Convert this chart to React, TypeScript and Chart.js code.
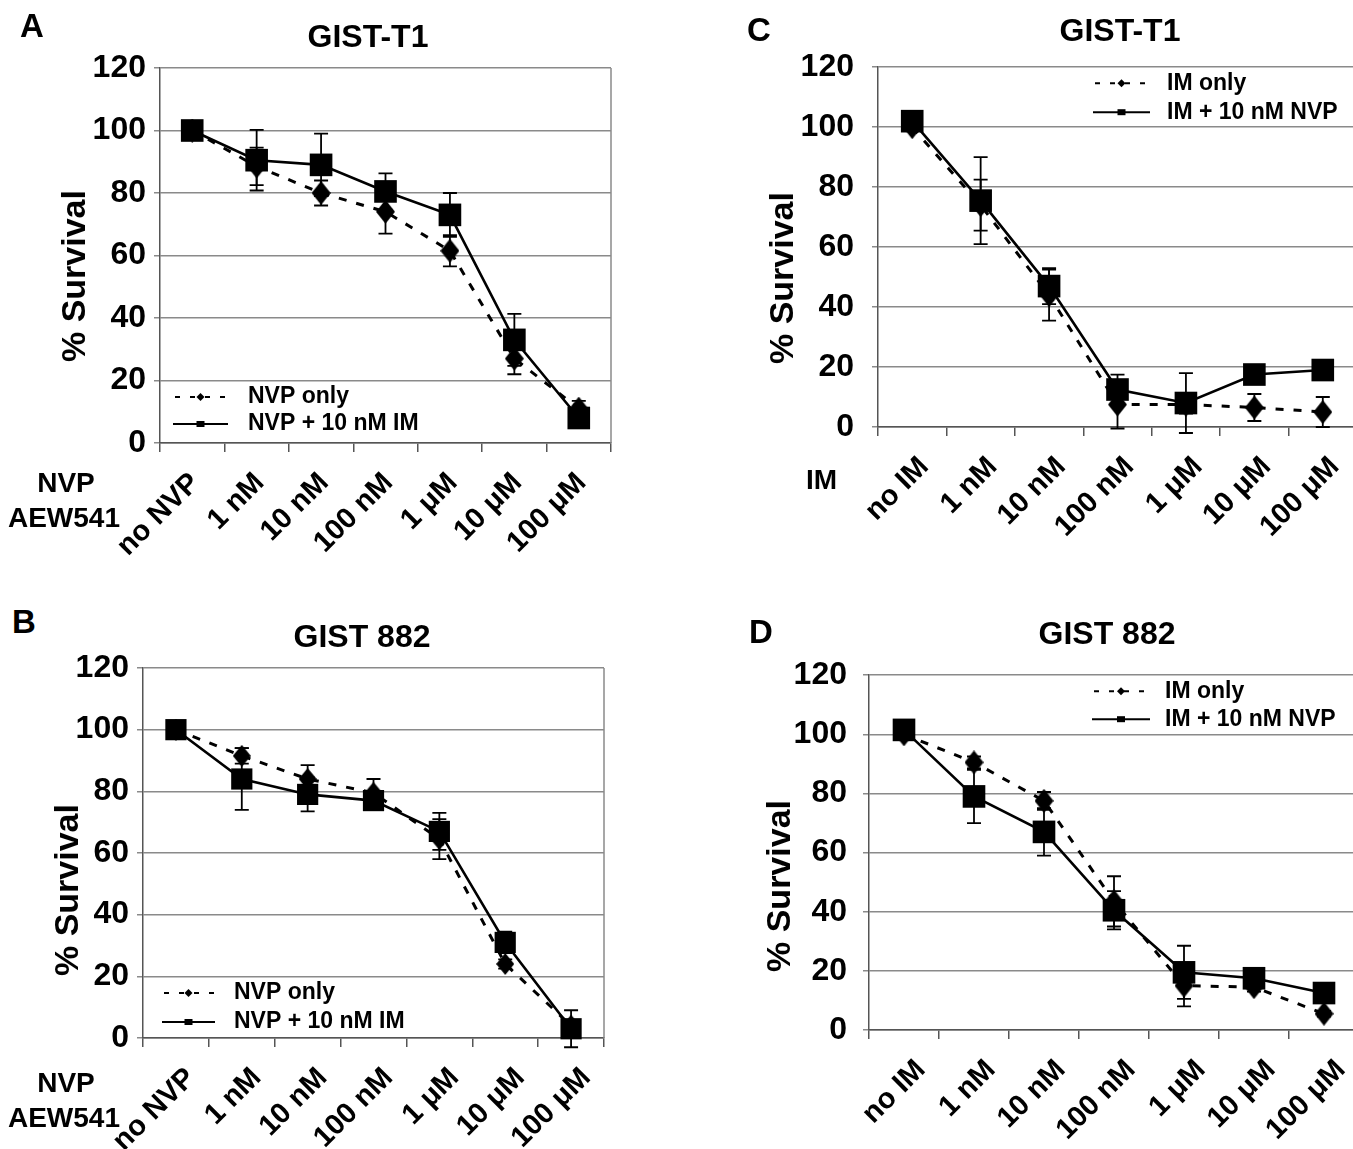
import React, { useEffect, useRef } from "react";
import { Chart, registerables } from "chart.js";

Chart.register(...registerables);

const FONT = "'Liberation Sans', Arial, Helvetica, sans-serif";

// ---------- data ----------
const nvpCategories = ["no NVP", "1 nM", "10 nM", "100 nM", "1 \u03BCM", "10 \u03BCM", "100 \u03BCM"];
const imCategories = ["no IM", "1 nM", "10 nM", "100 nM", "1 \u03BCM", "10 \u03BCM", "100 \u03BCM"];
const yTickValues = [0, 20, 40, 60, 80, 100, 120];

// Panel A: GIST-T1, NVP titration
const nvpOnlyA = [100, 88.5, 80, 74, 61.5, 27, 11];
const nvpOnlyAErr = [1, 6, 4, 7, 5, 5, 2.5];
const nvpImA = [100, 90.5, 89, 80.5, 73, 33, 8];
const nvpImAErr = [1, 9.7, 10, 5.8, 7, 8.3, 2];

// Panel B: GIST 882, NVP titration
const nvpOnlyB = [100, 91.5, 84, 79.5, 64.5, 24, 4];
const nvpOnlyBErr = [0.5, 2.5, 4.5, 4.5, 6.5, 1.5, 1];
const nvpImB = [100, 84, 79, 77, 67, 31, 3];
const nvpImBErr = [0.5, 10, 5.5, 2, 6, 3.5, 6];

// Panel C: GIST-T1, IM titration
const imOnlyC = [100, 74, 44, 7.5, 7.5, 6.5, 5];
const imOnlyCErr = [1, 8.5, 8.5, 8, 3, 4.5, 5];
const imNvpC = [102, 75.5, 47, 12.5, 8, 17.5, 19];
const imNvpCErr = [1, 14.5, 6, 5, 10, 1, 1];

// Panel D: GIST 882, IM titration
const imOnlyD = [100, 90.5, 77.5, 43.5, 15, 14.5, 5.5];
const imOnlyDErr = [1, 2, 3, 8.5, 7, 1.5, 1];
const imNvpD = [101.5, 79, 67, 40.5, 19.5, 17.5, 12.5];
const imNvpDErr = [1, 9, 8, 6.5, 9, 1, 1];

// ---------- layout ----------
type Rect = { left: number; top: number; width: number; height: number };
type Plot = { left: number; right: number; top: number; bottom: number };

interface PanelSpec {
  canvas: Rect;
  plot: Plot;
  labels: string[];
  single: number[];
  singleErr: number[];
  combo: number[];
  comboErr: number[];
  singleLabel: string;
  comboLabel: string;
  tickPad: number;
  labelOffset: number;
  legend: { lineX0: number; lineX1: number; textX: number; y0: number; y1: number };
  squareR: number;
  diamond: [number, number];
}

function makeDiamond(w: number, h: number): HTMLCanvasElement {
  const c = document.createElement("canvas");
  c.width = w;
  c.height = h;
  const g = c.getContext("2d")!;
  g.fillStyle = "#000";
  g.beginPath();
  g.moveTo(w / 2, 0);
  g.lineTo(w, h / 2);
  g.lineTo(w / 2, h);
  g.lineTo(0, h / 2);
  g.closePath();
  g.fill();
  return c;
}

function decorPlugin(p: PanelSpec) {
  return {
    id: "decor",
    beforeDatasetsDraw(chart: any) {
      const { ctx, chartArea } = chart;
      const y = chart.scales.y;
      ctx.save();
      ctx.strokeStyle = "#8a8a8a";
      ctx.lineWidth = 1.5;
      ctx.beginPath();
      ctx.moveTo(chartArea.right, chartArea.top);
      ctx.lineTo(chartArea.right, chartArea.bottom);
      ctx.stroke();
      ctx.strokeStyle = "#000";
      ctx.lineWidth = 1.8;
      chart.data.datasets.forEach((ds: any, i: number) => {
        const meta = chart.getDatasetMeta(i);
        meta.data.forEach((pt: any, j: number) => {
          const v = ds.data[j];
          const e = ds.errors[j];
          const yt = y.getPixelForValue(v + e);
          const yb = y.getPixelForValue(v - e);
          ctx.beginPath();
          ctx.moveTo(pt.x, yt);
          ctx.lineTo(pt.x, yb);
          ctx.moveTo(pt.x - 7, yt);
          ctx.lineTo(pt.x + 7, yt);
          ctx.moveTo(pt.x - 7, yb);
          ctx.lineTo(pt.x + 7, yb);
          ctx.stroke();
        });
      });
      ctx.restore();
    },
    afterDatasetsDraw(chart: any) {
      const { ctx, chartArea } = chart;
      const L = p.legend;
      const items = [
        { label: p.singleLabel, dashed: true, y: L.y0 },
        { label: p.comboLabel, dashed: false, y: L.y1 },
      ];
      ctx.save();
      items.forEach((it) => {
        const yy = chartArea.top + it.y;
        const x0 = chartArea.left + L.lineX0;
        const x1 = chartArea.left + L.lineX1;
        const xm = (x0 + x1) / 2;
        ctx.strokeStyle = "#000";
        ctx.fillStyle = "#000";
        ctx.lineWidth = 2;
        ctx.setLineDash(it.dashed ? [5, 10] : []);
        ctx.lineDashOffset = it.dashed ? -2 : 0;
        ctx.beginPath();
        ctx.moveTo(x0, yy);
        ctx.lineTo(x1, yy);
        ctx.stroke();
        ctx.setLineDash([]);
        ctx.beginPath();
        if (it.dashed) {
          ctx.moveTo(xm, yy - 4);
          ctx.lineTo(xm + 4, yy);
          ctx.lineTo(xm, yy + 4);
          ctx.lineTo(xm - 4, yy);
          ctx.closePath();
        } else {
          ctx.rect(xm - 4, yy - 3, 8, 6);
        }
        ctx.fill();
        ctx.font = `bold 23px ${FONT}`;
        ctx.textBaseline = "middle";
        ctx.textAlign = "left";
        ctx.fillText(it.label, chartArea.left + L.textX, yy);
      });
      ctx.restore();
    },
  };
}

function makeConfig(p: PanelSpec): any {
  const padTop = p.plot.top - p.canvas.top;
  const padRight = p.canvas.left + p.canvas.width - p.plot.right;
  const yWidth = p.plot.left - p.canvas.left;
  const xHeight = p.canvas.top + p.canvas.height - p.plot.bottom;
  return {
    type: "line",
    data: {
      labels: p.labels,
      datasets: [
        {
          label: p.comboLabel,
          data: p.combo,
          errors: p.comboErr,
          borderColor: "#000",
          backgroundColor: "#000",
          borderWidth: 2.6,
          pointStyle: "rect",
          pointRadius: p.squareR,
          pointHoverRadius: p.squareR,
          pointBorderWidth: 0,
          pointBackgroundColor: "#000",
          clip: false,
          tension: 0,
        },
        {
          label: p.singleLabel,
          data: p.single,
          errors: p.singleErr,
          borderColor: "#000",
          backgroundColor: "#000",
          borderWidth: 3,
          borderDash: [8, 10],
          pointStyle: makeDiamond(p.diamond[0], p.diamond[1]),
          pointRadius: 10,
          pointBorderWidth: 0,
          clip: false,
          tension: 0,
        },
      ],
    },
    options: {
      animation: false,
      responsive: false,
      devicePixelRatio: 1,
      events: [],
      layout: { padding: { top: padTop, right: padRight, left: 0, bottom: 0 }, autoPadding: false },
      plugins: { legend: { display: false }, tooltip: { enabled: false }, title: { display: false } },
      scales: {
        x: {
          type: "category",
          offset: true,
          grid: { offset: true, drawOnChartArea: false, drawTicks: true, tickLength: 9, color: "#555", lineWidth: 1.5 },
          border: { color: "#555", width: 1.5 },
          ticks: {
            color: "#000",
            font: { family: FONT, size: 29, weight: "bold" },
            maxRotation: 45,
            minRotation: 45,
            padding: 14,
            labelOffset: p.labelOffset,
            autoSkip: false,
          },
          afterFit: (s: any) => {
            s.height = xHeight;
          },
        },
        y: {
          min: 0,
          max: 120,
          afterBuildTicks: (s: any) => {
            s.ticks = yTickValues.map((v) => ({ value: v }));
          },
          ticks: { color: "#000", font: { family: FONT, size: 32, weight: "bold" }, padding: p.tickPad },
          grid: { color: "#8a8a8a", lineWidth: 1.5, tickLength: 6, drawTicks: true },
          border: { color: "#555", width: 1.5 },
          afterFit: (s: any) => {
            s.width = yWidth;
          },
        },
      },
    },
    plugins: [decorPlugin(p)],
  };
}

const panels: PanelSpec[] = [
  {
    canvas: { left: 0, top: 40, width: 680, height: 540 },
    plot: { left: 160, right: 611, top: 68, bottom: 443 },
    labels: nvpCategories,
    single: nvpOnlyA,
    singleErr: nvpOnlyAErr,
    combo: nvpImA,
    comboErr: nvpImAErr,
    singleLabel: "NVP only",
    comboLabel: "NVP + 10 nM IM",
    tickPad: 8,
    labelOffset: 3,
    legend: { lineX0: 13, lineX1: 68, textX: 88, y0: 329, y1: 356 },
    squareR: 16,
    diamond: [19, 24],
  },
  {
    canvas: { left: 0, top: 640, width: 680, height: 509 },
    plot: { left: 143, right: 604, top: 668, bottom: 1038 },
    labels: nvpCategories,
    single: nvpOnlyB,
    singleErr: nvpOnlyBErr,
    combo: nvpImB,
    comboErr: nvpImBErr,
    singleLabel: "NVP only",
    comboLabel: "NVP + 10 nM IM",
    tickPad: 8,
    labelOffset: 15,
    legend: { lineX0: 19, lineX1: 72, textX: 91, y0: 325, y1: 354 },
    squareR: 15,
    diamond: [18, 22],
  },
  {
    canvas: { left: 690, top: 30, width: 700, height: 550 },
    plot: { left: 878, right: 1357, top: 61, bottom: 427 },
    labels: imCategories,
    single: imOnlyC,
    singleErr: imOnlyCErr,
    combo: imNvpC,
    comboErr: imNvpCErr,
    singleLabel: "IM only",
    comboLabel: "IM + 10 nM NVP",
    tickPad: 18,
    labelOffset: 12,
    legend: { lineX0: 215, lineX1: 272, textX: 289, y0: 16, y1: 45 },
    squareR: 16,
    diamond: [19, 24],
  },
  {
    canvas: { left: 690, top: 640, width: 700, height: 509 },
    plot: { left: 869, right: 1359, top: 665, bottom: 1030 },
    labels: imCategories,
    single: imOnlyD,
    singleErr: imOnlyDErr,
    combo: imNvpD,
    comboErr: imNvpDErr,
    singleLabel: "IM only",
    comboLabel: "IM + 10 nM NVP",
    tickPad: 16,
    labelOffset: 17,
    legend: { lineX0: 223, lineX1: 281, textX: 296, y0: 16, y1: 44 },
    squareR: 16,
    diamond: [19, 24],
  },
];

function Panel({ spec }: { spec: PanelSpec }) {
  const ref = useRef<HTMLCanvasElement | null>(null);
  useEffect(() => {
    if (!ref.current) return;
    const chart = new Chart(ref.current, makeConfig(spec));
    return () => chart.destroy();
  }, [spec]);
  const c = spec.canvas;
  return (
    <canvas
      ref={ref}
      width={c.width}
      height={c.height}
      style={{ position: "absolute", left: c.left, top: c.top, width: c.width, height: c.height }}
    />
  );
}

function Text({
  x,
  baseline,
  size,
  align = "left",
  children,
}: {
  x: number;
  baseline: number;
  size: number;
  align?: "left" | "center" | "right";
  children: React.ReactNode;
}) {
  const top = baseline - 0.8465 * size;
  const tx = align === "center" ? "translateX(-50%)" : align === "right" ? "translateX(-100%)" : "none";
  return (
    <div
      style={{
        position: "absolute",
        left: x,
        top,
        fontFamily: FONT,
        fontWeight: "bold",
        fontSize: size,
        lineHeight: `${size}px`,
        whiteSpace: "nowrap",
        transform: tx,
        color: "#000",
      }}
    >
      {children}
    </div>
  );
}

function YTitle({ cx, cy, size }: { cx: number; cy: number; size: number }) {
  return (
    <div
      style={{
        position: "absolute",
        left: cx,
        top: cy,
        fontFamily: FONT,
        fontWeight: "bold",
        fontSize: size,
        lineHeight: `${size}px`,
        whiteSpace: "nowrap",
        transform: "translate(-50%, -50%) rotate(-90deg)",
        color: "#000",
      }}
    >
      % Survival
    </div>
  );
}

export default function App() {
  return (
    <div
      style={{
        position: "absolute",
        left: 0,
        top: 0,
        width: 1353,
        height: 1149,
        overflow: "hidden",
        background: "#fff",
      }}
    >
      {panels.map((p, i) => (
        <Panel key={i} spec={p} />
      ))}
      <Text x={20} baseline={37} size={33}>A</Text>
      <Text x={368} baseline={47} size={32} align="center">GIST-T1</Text>
      <Text x={66} baseline={493} size={28} align="center">NVP</Text>
      <Text x={64} baseline={528} size={28} align="center">AEW541</Text>
      <YTitle cx={73} cy={276} size={34} />

      <Text x={12} baseline={633} size={33}>B</Text>
      <Text x={362} baseline={647} size={32} align="center">GIST 882</Text>
      <Text x={66} baseline={1093} size={28} align="center">NVP</Text>
      <Text x={64} baseline={1128} size={28} align="center">AEW541</Text>
      <YTitle cx={66} cy={890} size={34} />

      <Text x={747} baseline={41} size={33}>C</Text>
      <Text x={1120} baseline={41} size={32} align="center">GIST-T1</Text>
      <Text x={806} baseline={490} size={28}>IM</Text>
      <YTitle cx={781} cy={278} size={34} />

      <Text x={749} baseline={643} size={33}>D</Text>
      <Text x={1107} baseline={644} size={32} align="center">GIST 882</Text>
      <YTitle cx={778} cy={886} size={34} />
    </div>
  );
}
